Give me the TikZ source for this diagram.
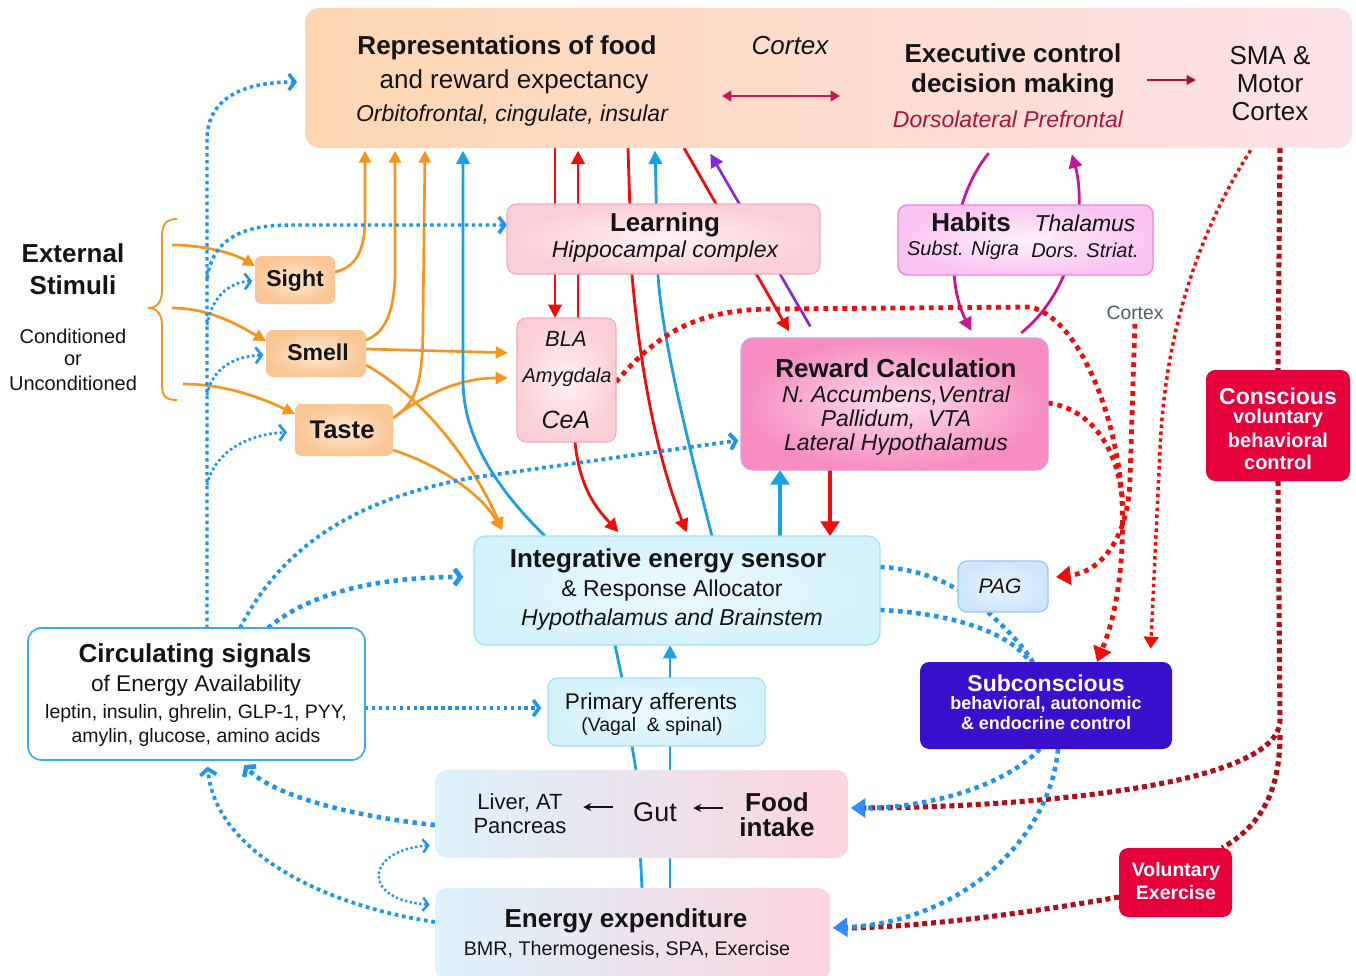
\documentclass[tikz,border=0pt]{standalone}
\usepackage{fontspec}
\setmainfont{Liberation Sans}
\usetikzlibrary{arrows.meta}
\pgfdeclarelayer{bg}
\pgfsetlayers{bg,main}
\definecolor{txt}{RGB}{20,20,20}
\definecolor{topL}{RGB}{252,214,178}
\definecolor{topR}{RGB}{253,226,232}
\definecolor{orng}{RGB}{247,148,30}
\definecolor{sensI}{RGB}{254,232,210}
\definecolor{sensO}{RGB}{250,198,148}
\definecolor{lrnI}{RGB}{255,242,245}
\definecolor{lrnO}{RGB}{250,206,214}
\definecolor{lrnB}{RGB}{244,168,184}
\definecolor{rwdI}{RGB}{253,222,238}
\definecolor{rwdO}{RGB}{246,140,192}
\definecolor{rwdB}{RGB}{200,160,240}
\definecolor{habI}{RGB}{255,240,252}
\definecolor{habO}{RGB}{250,196,240}
\definecolor{habB}{RGB}{238,130,225}
\definecolor{intI}{RGB}{236,250,254}
\definecolor{intO}{RGB}{212,242,252}
\definecolor{intB}{RGB}{165,225,245}
\definecolor{pagI}{RGB}{232,244,254}
\definecolor{pagO}{RGB}{206,230,250}
\definecolor{pagB}{RGB}{150,200,245}
\definecolor{foodL}{RGB}{220,242,252}
\definecolor{foodR}{RGB}{251,212,222}
\definecolor{circB}{RGB}{60,170,230}
\definecolor{consc}{RGB}{230,0,60}
\definecolor{subc}{RGB}{58,16,204}
\definecolor{bluel}{RGB}{27,161,226}
\definecolor{bluedot}{RGB}{30,148,236}
\definecolor{bluetip}{RGB}{50,140,245}
\definecolor{redl}{RGB}{240,12,12}
\definecolor{darkred}{RGB}{175,15,25}
\definecolor{crim}{RGB}{195,25,85}
\definecolor{crimd}{RGB}{160,20,60}
\definecolor{dlpf}{RGB}{170,20,60}
\definecolor{purp}{RGB}{135,40,215}
\definecolor{magn}{RGB}{200,20,150}
\definecolor{grayt}{RGB}{80,90,105}
\tikzset{
  tx/.style={inner sep=0pt, outer sep=0pt, text=txt},
  tr/.style={font=\fontsize{#1}{#1}\selectfont},
  tb/.style={font=\fontsize{#1}{#1}\selectfont\bfseries},
  ti/.style={font=\fontsize{#1}{#1}\selectfont\itshape},
  sz/.style 2 args={minimum width=#1*0.75pt, minimum height=#2*0.75pt},
  box/.style={rectangle, rounded corners=7pt, inner sep=0pt, outer sep=0pt},
  sens/.style={box, rounded corners=5pt, inner color=sensI, outer color=sensO},
  oarr/.style={draw=orng, line width=2pt, -{Triangle[length=9pt,width=9pt]}},
  rarr/.style={draw=redl, line width=2.1pt, -{Triangle[length=10pt,width=10pt]}},
  barr/.style={draw=bluel, line width=2.1pt, -{Triangle[length=10pt,width=10pt]}},
  chev/.style={-{Straight Barb[length=4.5pt,width=12pt]}},
  bdot/.style={draw=bluedot, line width=#1, dash pattern=on #1 off #1},
  bdot/.default=2.4pt,
  rdot/.style={draw=redl, line width=#1, dash pattern=on #1 off #1},
  rdot/.default=3.6pt,
  kdot/.style={draw=darkred, line width=3.8pt, dash pattern=on 3.8pt off 2.8pt},
  rtip/.style={-{Triangle[length=11pt,width=14pt]}},
  btip/.style={-{Triangle[length=11pt,width=14pt,color=bluetip]}}
}
\begin{document}
\begin{tikzpicture}[x=0.75pt,y=-0.75pt]
\useasboundingbox (0,0) rectangle (1356,975);
\begin{pgfonlayer}{bg}
\fill[white] (0,0) rectangle (1356,975);
\end{pgfonlayer}

% ---------------- boxes ----------------
\node[box, sz={1047}{140}, rounded corners=11pt, left color=topL, right color=topR] (top) at (828.5,78) {};
\node[box, sz={313}{70}, draw=lrnB, line width=0.8pt, inner color=lrnI, outer color=lrnO] (learn) at (663.5,239) {};
\node[box, sz={99}{124}, draw=lrnB, line width=0.8pt, inner color=lrnI, outer color=lrnO] (amyg) at (566.5,380) {};
\node[box, sz={307}{132}, rounded corners=9pt, draw=rwdB, line width=1pt, inner color=rwdI, outer color=rwdO] (reward) at (894.5,404) {};
\node[box, sz={255}{70}, draw=habB, line width=1pt, inner color=habI, outer color=habO] (habits) at (1025.5,240) {};
\node[box, sz={406}{109}, rounded corners=9pt, draw=intB, line width=1pt, inner color=intI, outer color=intO] (integ) at (677,590.5) {};
\node[box, sz={90}{51}, draw=pagB, line width=1pt, inner color=pagI, outer color=pagO] (pag) at (1003,586.5) {};
\node[box, sz={217}{68}, draw=intB, line width=1pt, inner color=intI, outer color=intO] (prim) at (656.5,712) {};
\node[box, sz={413}{88}, rounded corners=9pt, left color=foodL, right color=foodR] (food) at (641.5,814) {};
\node[box, sz={395}{92}, rounded corners=9pt, left color=foodL, right color=foodR] (energy) at (632.5,934) {};
\node[box, sz={337}{132}, rounded corners=10pt, draw=circB, line width=1.2pt, fill=white] (circ) at (196.5,694) {};
\node[box, sz={144}{111}, fill=consc] (consc) at (1278,425.5) {};
\node[box, sz={252}{87}, fill=subc] (subc) at (1046,705.5) {};
\node[box, sz={113}{69}, fill=consc] (volx) at (1175.5,882.5) {};
\node[sens, sz={80}{48}] (sight) at (295,280) {};
\node[sens, sz={100}{47}] (smell) at (316,353.5) {};
\node[sens, sz={98}{52}] (taste) at (344,430) {};

% ---------------- texts ----------------
\node[tx,tb=19.5] (tRep) at (507,48) {Representations of food};
\node[tx,tr=19.5] (tAnd) at (514,82) {and reward expectancy};
\node[tx,ti=17.25] (tOrb) at (512,116) {Orbitofrontal, cingulate, insular};
\node[tx,ti=19.5] (tCtx) at (790,46) {Cortex};
\node[tx,tb=19.5] (tExe) at (1013,53) {Executive control};
\node[tx,tb=19.5] (tDec) at (1013,86) {decision making};
\node[tx,ti=17.25,text=dlpf] (tDlp) at (1008,119) {Dorsolateral Prefrontal};
\node[tx,tr=19.5] (tSma) at (1270,56) {SMA \&};
\node[tx,tr=19.5] (tMot) at (1270,84) {Motor};
\node[tx,tr=19.5] (tMc) at (1270,112) {Cortex};

\node[tx,tb=19.5] (tExt) at (73,253) {External};
\node[tx,tb=19.5] (tSti) at (73,285) {Stimuli};
\node[tx,tr=15] (tCon) at (73,336) {Conditioned};
\node[tx,tr=15] (tOr) at (73,360) {or};
\node[tx,tr=15] (tUnc) at (73,383) {Unconditioned};

\node[tx,tb=17.25] (tSig) at (295,281) {Sight};
\node[tx,tb=17.25] (tSme) at (318,352) {Smell};
\node[tx,tb=19.2] (tTas) at (342,430) {Taste};

\node[tx,tb=19.5] (tLea) at (665,225) {Learning};
\node[tx,ti=17.25] (tHip) at (665,252) {Hippocampal complex};
\node[tx,ti=16.5] (tBla) at (566,339) {BLA};
\node[tx,ti=15] (tAmy) at (567,377) {Amygdala};
\node[tx,ti=18.75] (tCea) at (566,420) {CeA};

\node[tx,tb=19.5] (tRew) at (896,368) {Reward Calculation};
\node[tx,ti=17.25] (tAcc) at (896,396) {N. Accumbens,Ventral};
\node[tx,ti=17.25] (tPal) at (896,420) {Pallidum,\ \ VTA};
\node[tx,ti=17.25] (tLat) at (896,445) {Lateral Hypothalamus};

\node[tx,tb=19.5] (tHab) at (971,222) {Habits};
\node[tx,ti=17.25] (tTha) at (1085,223) {Thalamus};
\node[tx,ti=15] (tSub) at (963,250) {Subst. Nigra};
\node[tx,ti=15] (tDor) at (1085,250) {Dors. Striat.};

\node[tx,tr=14.5,text=grayt] (cx2) at (1135,313) {Cortex};

\node[tx,tb=17.25,text=white] (tCo1) at (1278,396) {Conscious};
\node[tx,tb=15,text=white] (tCo2) at (1278,418) {voluntary};
\node[tx,tb=15,text=white] (tCo3) at (1278,440) {behavioral};
\node[tx,tb=15,text=white] (tCo4) at (1278,462) {control};

\node[tx,tb=19.5] (tInt) at (668,561) {Integrative energy sensor};
\node[tx,tr=17.25] (tRes) at (672,591) {\& Response Allocator};
\node[tx,ti=17.25] (tHyp) at (672,620) {Hypothalamus and Brainstem};

\node[tx,ti=15.75] (tPag) at (1000,586) {PAG};

\node[tx,tb=19.5] (tCir) at (195,656) {Circulating signals};
\node[tx,tr=17] (tOfe) at (196,686) {of Energy Availability};
\node[tx,tr=14.6] (tLep) at (196,713) {leptin, insulin, ghrelin, GLP-1, PYY,};
\node[tx,tr=14.6] (tAmn) at (196,737) {amylin, glucose, amino acids};

\node[tx,tr=17] (tPri) at (651,704) {Primary afferents};
\node[tx,tr=14.6] (tVag) at (652,726) {(Vagal\ \ \& spinal)};

\node[tx,tb=17.25,text=white] (tSc1) at (1046,683) {Subconscious};
\node[tx,tb=13.5,text=white] (tSc2) at (1046,704) {behavioral, autonomic};
\node[tx,tb=13.5,text=white] (tSc3) at (1046,723) {\& endocrine control};

\node[tx,tr=16.5] (tLiv) at (520,803) {Liver, AT};
\node[tx,tr=16.5] (tPan) at (520,826) {Pancreas};
\node[tx,tr=20.25] (tGut) at (655,812) {Gut};
\node[tx,tb=19.5] (tFoo) at (777,802) {Food};
\node[tx,tb=19.5] (tInk) at (777,827) {intake};

\node[tx,tb=19.5] (tEne) at (626,921) {Energy expenditure};
\node[tx,tr=14.8] (tBmr) at (627,950) {BMR, Thermogenesis, SPA, Exercise};

\node[tx,tb=14.6,text=white] (tVo1) at (1176,871) {Voluntary};
\node[tx,tb=14.6,text=white] (tVo2) at (1176,893) {Exercise};

% arrows inside boxes
\coordinate (ca1) at (722,96);
\coordinate (ca2) at (840,96);
\draw[crim, line width=1.6pt, {Triangle[length=7pt,width=8pt]}-{Triangle[length=7pt,width=8pt]}] (ca1) -- (ca2);
\coordinate (cb1) at (1147,80);
\coordinate (cb2) at (1196,80);
\draw[crimd, line width=1.6pt, -{Triangle[length=7pt,width=7pt]}] (cb1) -- (cb2);
\draw[txt, line width=1.1pt, -{Stealth[length=6pt,width=6pt]}] (tGut.west) ++(-20,-5) coordinate (g1) -- ++(-30,0) coordinate (g2);
\draw[txt, line width=1.1pt, -{Stealth[length=6pt,width=6pt]}] (tFoo.west |- 0,808) ++(-22,0) coordinate (g3) -- ++(-30,0) coordinate (g4);

% ---------------- connectors ----------------
\begin{pgfonlayer}{bg}
% brace
\draw[orng, line width=1.4pt] (177,219) .. controls (165,219) and (162,225) .. (162,238) -- (162,290) .. controls (162,302) and (157,308) .. (148,308) .. controls (157,308) and (162,314) .. (162,326) -- (162,384) .. controls (162,396) and (165,400) .. (177,400);
\coordinate (s1) at (172,245);
\coordinate (s2) at (172,308);
\coordinate (s3) at (183,384);
\draw[oarr] (s1) .. controls (205,245) and (235,254) .. (sight.west |- 0,266);
\draw[oarr] (s2) .. controls (210,308) and (240,326) .. (smell.west |- 0,341);
\draw[oarr] (s3) .. controls (225,384) and (262,398) .. (taste.west |- 0,414);
% orange to cortex
\draw[oarr, shorten >=2pt] (sight.east |- 0,272) .. controls (360,266) and (365,245) .. (365,215) -- (365,0 |- top.south);
\draw[oarr, shorten >=2pt] (smell.east |- 0,340) .. controls (388,332) and (395,305) .. (395,270) -- (395,0 |- top.south);
\draw[oarr, shorten >=2pt] (taste.east |- 0,418) .. controls (418,402) and (423,380) .. (423,320) -- (425,0 |- top.south);
% orange to amygdala and integrative
\draw[oarr, shorten >=7pt] (smell.east |- 0,349) -- (amyg.west |- 0,353);
\draw[oarr, shorten >=7pt] (taste.east |- 0,418) .. controls (428,392) and (462,378) .. (amyg.west |- 0,378);
\draw[oarr, shorten >=5pt] (smell.east |- 0,365) .. controls (420,395) and (472,460) .. (505,0 |- integ.north);
\draw[oarr, shorten >=5pt] (taste.east |- 0,450) .. controls (440,465) and (482,495) .. (505,0 |- integ.north);
% blue solid
\draw[barr, shorten >=2pt] (545,0 |- integ.north) .. controls (500,492) and (463,440) .. (463,380) -- (463,0 |- top.south);
\draw[barr, shorten >=2pt] (712,0 |- integ.north) .. controls (690,450) and (662,340) .. (658,275) -- (655,0 |- top.south);
\draw[draw=bluel, line width=3pt, -{Triangle[length=11pt,width=14pt]}] (780,0 |- integ.north) -- (780,0 |- reward.south);
\draw[bluel, line width=2.1pt] (642,0 |- energy.north) -- (636,0 |- food.north) -- (632,0 |- prim.south);
\draw[bluel, line width=2.1pt] (622,0 |- prim.north) -- (615,0 |- integ.south);
\draw[barr] (670,0 |- energy.north) -- (670,0 |- integ.south);
% red solid
\draw[rarr] (555,0 |- top.south) -- (555,0 |- amyg.north);
\draw[rarr, shorten >=2pt] (578,0 |- amyg.north) -- (578,0 |- top.south);
\draw[rarr, shorten >=3pt] (628,0 |- top.south) -- (632,275) .. controls (642,390) and (662,470) .. (688,0 |- integ.north);
\draw[rarr, shorten >=6pt] (684,0 |- top.south) -- (793,0 |- reward.north);
\draw[rarr, shorten >=4pt] (575,0 |- amyg.south) .. controls (580,492) and (600,512) .. (622,0 |- integ.north);
\draw[draw=redl, line width=3pt, -{Triangle[length=11pt,width=14pt]}] (830,0 |- reward.south) -- (830,0 |- integ.north);
% purple
\draw[draw=purp, line width=2pt, -{Triangle[length=10pt,width=10pt]}, shorten <=10pt, shorten >=5pt] (817,0 |- reward.north) -- (707,0 |- top.south);
% magenta
\draw[draw=magn, line width=2.1pt, -{Triangle[length=10pt,width=10pt]}, shorten <=5pt, shorten >=6pt] (993,0 |- top.south) .. controls (950,200) and (945,280) .. (975,0 |- reward.north);
\draw[draw=magn, line width=2.1pt, -{Triangle[length=10pt,width=10pt]}, shorten <=6pt, shorten >=5pt] (1015,0 |- reward.north) .. controls (1080,285) and (1085,200) .. (1070,0 |- top.south);
% red dotted
\draw[rdot, rtip] (amyg.east |- 0,382) .. controls (660,330) and (700,310) .. (770,309) -- (1030,307) .. controls (1080,318) and (1118,420) .. (1122,500) .. controls (1125,580) and (1112,625) .. (1097,0 |- subc.north);
\coordinate (merge) at (1123,505);
\draw[rdot] (reward.east |- 0,403) .. controls (1085,408) and (1118,440) .. (merge);
\draw[rdot, rtip, shorten <=3pt, shorten >=6pt] (cx2.south) -- (1130,480) .. controls (1128,540) and (1100,572) .. (pag.east |- 0,578);
\draw[rdot=2.6pt, -{Triangle[length=9pt,width=11pt]}, shorten <=2pt, shorten >=10pt] (1252,0 |- top.south) .. controls (1200,230) and (1165,330) .. (1160,450) -- (1150,0 |- subc.north);
% dark red dotted
\draw[kdot] (1280,0 |- top.south) -- (consc.north);
\coordinate (kb) at (1280,735);
\draw[kdot, shorten >=8pt] (consc.south) -- (1280,720) .. controls (1280,790) and (1000,808) .. (food.east |- 0,808);
\draw[kdot] (kb) .. controls (1280,790) and (1262,825) .. (1222,0 |- volx.north);
\draw[kdot, shorten >=8pt] (volx.west |- 0,897) .. controls (1000,918) and (900,928) .. (energy.east |- 0,928);
% blue dotted
\draw[bdot=2.6pt, chev, shorten >=6pt] (207,0 |- circ.north) -- (207,140) .. controls (207,100) and (240,82) .. (top.west |- 0,82);
\coordinate (ev2) at (207,278);
\coordinate (ev3) at (207,325);
\coordinate (ev4) at (207,395);
\coordinate (ev5) at (207,485);
\draw[bdot=2.6pt, chev] (ev2) .. controls (213,240) and (240,225) .. (290,225) -- (learn.west |- 0,225);
\draw[bdot=2pt, chev, shorten >=2pt] (ev3) .. controls (212,296) and (230,282) .. (sight.west |- 0,281);
\draw[bdot=2pt, chev, shorten >=2pt] (ev4) .. controls (212,368) and (235,356) .. (smell.west |- 0,355);
\draw[bdot=2pt, chev, shorten >=6pt] (ev5) .. controls (215,450) and (250,434) .. (taste.west |- 0,432);
\draw[bdot=2.8pt, chev, shorten >=2pt] (240,0 |- circ.north) .. controls (290,530) and (380,495) .. (470,478) -- (reward.west |- 0,440);
\draw[bdot=3.4pt, chev, shorten >=8pt] (268,0 |- circ.north) .. controls (310,592) and (380,577) .. (integ.west |- 0,577);
\draw[bdot=2.6pt, chev, shorten >=5pt] (circ.east |- 0,708) -- (prim.west |- 0,708);
\draw[bdot=3.4pt, chev, shorten >=5pt] (food.west |- 0,825) .. controls (340,815) and (268,792) .. (240,0 |- circ.south);
\draw[bdot=2.8pt, chev, shorten >=5pt] (energy.west |- 0,922) .. controls (320,905) and (215,850) .. (207,0 |- circ.south);
\draw[bdot=1.8pt, {Straight Barb[length=4pt,width=10pt]}-{Straight Barb[length=4pt,width=10pt]}, shorten <=4pt, shorten >=4pt] (food.west |- 0,845) .. controls (365,850) and (360,900) .. (energy.west |- 0,905);
\draw[bdot=3.4pt] (integ.east |- 0,567) .. controls (910,568) and (940,578) .. (pag.west |- 0,590);
\draw[bdot=3.4pt] (988,0 |- pag.south) .. controls (1005,628) and (1020,642) .. (1033,0 |- subc.north);
\draw[bdot=3.4pt] (integ.east |- 0,610) .. controls (950,613) and (1010,632) .. (1030,0 |- subc.north);
\draw[bdot=3.4pt, btip, shorten >=2pt] (1040,0 |- subc.south) .. controls (1000,790) and (920,808) .. (food.east |- 0,808);
\draw[bdot=3.4pt, btip, shorten >=2pt] (1058,0 |- subc.south) .. controls (1050,840) and (960,922) .. (energy.east |- 0,928);
\end{pgfonlayer}
\end{tikzpicture}
\end{document}
